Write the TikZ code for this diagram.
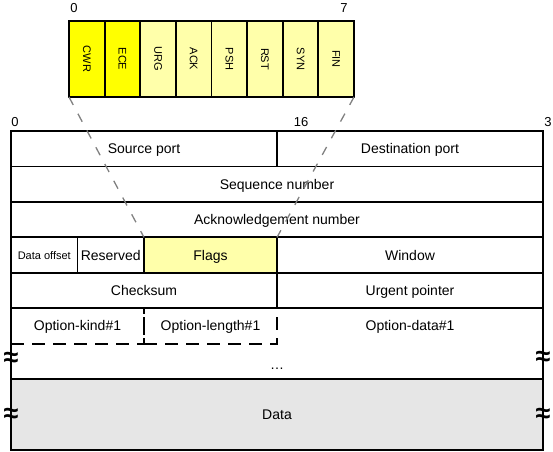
\documentclass[tikz,border=0pt]{standalone}
\usepackage{fontspec}
\setmainfont{Liberation Sans}
\usetikzlibrary{positioning}

\definecolor{flagyellow}{RGB}{255,255,0}
\definecolor{paleyellow}{RGB}{255,255,170}
\definecolor{datagray}{RGB}{230,230,230}

\begin{document}
\begin{tikzpicture}[
  x=1pt, y=-1pt,
  font=\fontsize{14}{16}\selectfont,
  field/.style={draw, line width=1.8pt, outer sep=0pt, inner sep=0pt, minimum height=35.45pt, text height=10pt, text depth=0pt},
  nibble/.style={field, minimum width=66.5pt},
  quarter/.style={field, minimum width=133pt},
  half/.style={field, minimum width=266pt},
  full/.style={field, minimum width=532pt},
  optbox/.style={half, minimum width=133pt, dashed, dash pattern=on 13pt off 8pt},
  bitbox/.style={draw, line width=1.8pt, outer sep=0pt, inner sep=0pt, minimum width=35.625pt, minimum height=76pt, fill=paleyellow, font=\fontsize{11}{13}\selectfont},
  num/.style={inner sep=0pt, font=\fontsize{13}{15}\selectfont},
  cut/.style={inner sep=0pt, font=\bfseries\fontsize{27}{27}\selectfont},
  zoomline/.style={draw=gray, line width=1.3pt, dash pattern=on 9pt off 10pt}
]
\useasboundingbox (0,0) rectangle (553,451);

% Flag bits
\node[bitbox, fill=flagyellow, anchor=north west] (f0) at (69,21) {\rotatebox{-90}{CWR}};
\node[bitbox, fill=flagyellow, right=0pt of f0] (f1) {\rotatebox{-90}{ECE}};
\node[bitbox, right=0pt of f1] (f2) {\rotatebox{-90}{URG}};
\node[bitbox, right=0pt of f2] (f3) {\rotatebox{-90}{ACK}};
\node[bitbox, right=0pt of f3] (f4) {\rotatebox{-90}{PSH}};
\node[bitbox, right=0pt of f4] (f5) {\rotatebox{-90}{RST}};
\node[bitbox, right=0pt of f5] (f6) {\rotatebox{-90}{SYN}};
\node[bitbox, right=0pt of f6] (f7) {\rotatebox{-90}{FIN}};

\node[num] (bit0) at (74,8) {0};
\node[num] (bit7) at (344,8) {7};

% Header rows
\node[half, anchor=north west] (src) at (11,131) {Source port};
\node[half, right=0pt of src] (dst) {Destination port};
\node[full, below=0pt of src.south east] (seq) {Sequence number};
\node[full, below=0pt of seq] (ack) {Acknowledgement number};
\node[nibble, below=0pt of ack.south west, anchor=north west, font=\fontsize{11}{13}\selectfont, text height=8pt] (doff) {Data offset};
\node[nibble, right=0pt of doff] (rsvd) {Reserved};
\node[quarter, right=0pt of rsvd, fill=paleyellow] (flags) {Flags};
\node[half, right=0pt of flags] (win) {Window};
\node[half, below=0pt of doff.south west, anchor=north west] (chk) {Checksum};
\node[half, right=0pt of chk] (urg) {Urgent pointer};

% Options
\node[full, below=0pt of chk.south east, minimum height=70.9pt] (opt) {};
\node[optbox, below=0pt of chk.south west, anchor=north west] (okind) {Option-kind\#1};
\node[optbox, right=0pt of okind] (olen) {Option-length\#1};
\node[half, draw=none, below=0pt of urg] (odata) {Option-data\#1};
\node[inner sep=0pt, above=9pt of opt.south] (dots) {…};

% Data
\node[full, below=0pt of opt, minimum height=70.9pt, fill=datagray] (data) {Data};

% Bit numbers
\node[num] (pos0) at (15,122) {0};
\node[num] (pos16) at (301,122) {16};
\node[num] (pos31) at (548,122) {3};

% Cut marks
\node[cut] (cutl1) at (11,359) {≈};
\node[cut] (cutl2) at (11,415) {≈};
\node[cut] (cutr1) at (543,358) {≈};
\node[cut] (cutr2) at (543,415) {≈};

% Zoom lines
\draw[zoomline] (f0.south west) -- (flags.north west);
\draw[zoomline] (f7.south east) -- (flags.north east);

\end{tikzpicture}
\end{document}
